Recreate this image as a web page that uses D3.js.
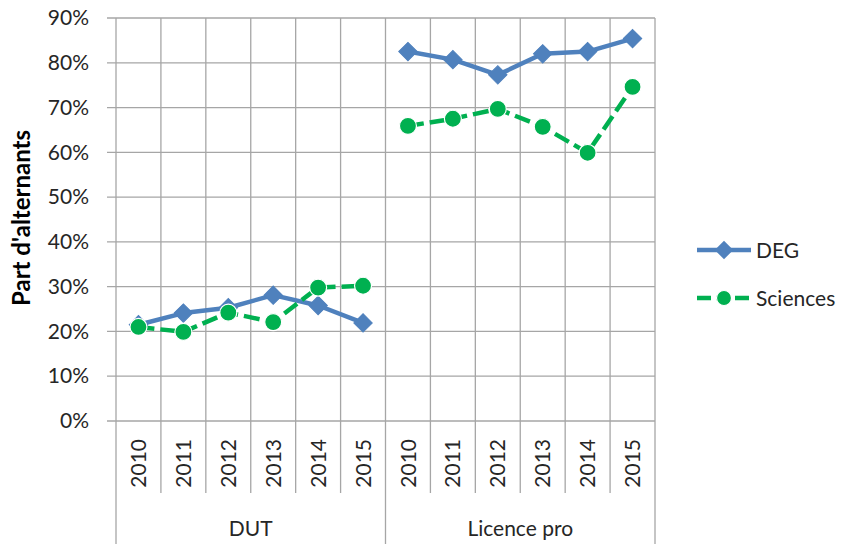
<!DOCTYPE html>
<html>
<head>
<meta charset="utf-8">
<script src="https://cdn.jsdelivr.net/npm/d3@7"></script>
<style>
  body { margin: 0; background: #fff; }
  text { font-family: Lato, "Open Sans", sans-serif; fill: #262626; }
</style>
</head>
<body>
<svg id="chart" width="850" height="544"></svg>
<script>
// data
var groups = ["DUT", "Licence pro"];
var years = ["2010", "2011", "2012", "2013", "2014", "2015"];
var deg = [
  [21.5, 24.1, 25.3, 28.1, 25.8, 21.9],
  [82.5, 80.7, 77.3, 82.0, 82.5, 85.4]
];
var sciences = [
  [21.0, 19.9, 24.2, 22.1, 29.8, 30.2],
  [65.9, 67.5, 69.7, 65.7, 59.9, 74.6]
];
var yTicks = [0, 10, 20, 30, 40, 50, 60, 70, 80, 90];

var plotL = 116, plotR = 655, plotT = 18, plotB = 421;

var svg = d3.select("#chart");

var cats = [];
groups.forEach(function(g) {
  years.forEach(function(yr) { cats.push(g + "|" + yr); });
});

var x = d3.scaleBand().domain(cats).range([plotL, plotR]).padding(0);
var y = d3.scaleLinear().domain([0, 90]).range([plotB, plotT]);

var gridColor = "#a6a6a6";

// horizontal gridlines
svg.append("g").selectAll("line")
  .data(yTicks)
  .enter().append("line")
  .attr("x1", plotL - 9).attr("x2", plotR)
  .attr("y1", function(d) { return y(d); })
  .attr("y2", function(d) { return y(d); })
  .attr("stroke", gridColor).attr("stroke-width", 1.3);

// vertical gridlines at band boundaries
var bounds = cats.map(function(c) { return x(c); }).concat([plotR]);
svg.append("g").selectAll("line")
  .data(bounds)
  .enter().append("line")
  .attr("x1", function(d) { return d; })
  .attr("x2", function(d) { return d; })
  .attr("y1", plotT)
  .attr("y2", function(d, i) { return (i % 6 === 0) ? 544 : 493; })
  .attr("stroke", gridColor).attr("stroke-width", 1.3);

// y axis labels
var yAxis = svg.append("g")
  .attr("transform", "translate(" + plotL + ",0)")
  .call(d3.axisLeft(y).tickValues(yTicks).tickSize(0).tickPadding(27)
    .tickFormat(function(d) { return d + "%"; }));
yAxis.select(".domain").remove();
yAxis.selectAll("text").style("font-size", "21px").style("font-family", "Lato, sans-serif").attr("fill", "#262626");

// year labels
svg.append("g").selectAll("text")
  .data(cats)
  .enter().append("text")
  .attr("transform", function(d) {
    return "translate(" + (x(d) + x.bandwidth() / 2) + ",439) rotate(-90)";
  })
  .attr("dy", "0.36em")
  .style("text-anchor", "end")
  .style("font-size", "21px")
  .text(function(d) { return d.split("|")[1]; });

// group labels
svg.append("g").selectAll("text")
  .data(groups)
  .enter().append("text")
  .attr("x", function(g) { return (x(g + "|2010") + x(g + "|2015") + x.bandwidth()) / 2; })
  .attr("y", 536)
  .style("text-anchor", "middle")
  .style("font-size", "21px")
  .text(function(d) { return d; });

// y title
svg.append("text")
  .attr("transform", "translate(30,218) rotate(-90)")
  .style("text-anchor", "middle")
  .style("font-size", "24px")
  .style("font-weight", "bold")
  .style("fill", "#000")
  .text("Part d'alternants");

var blue = "#4f81bd", green = "#00b050";

var line = d3.line()
  .x(function(d) { return x(d.cat) + x.bandwidth() / 2; })
  .y(function(d) { return y(d.v); });

function pts(arr, gi) {
  return arr[gi].map(function(v, i) { return { cat: groups[gi] + "|" + years[i], v: v }; });
}

var diamond = d3.symbol().type(d3.symbolSquare).size(170);

function drawSeries(arr, color, dash, marker) {
  groups.forEach(function(g, gi) {
    var p = pts(arr, gi);
    svg.append("path")
      .datum(p)
      .attr("d", line)
      .attr("fill", "none")
      .attr("stroke", color)
      .attr("stroke-width", 4.5)
      .attr("stroke-dasharray", dash)
      .attr("stroke-linejoin", "round");
    var m = svg.append("g").selectAll("g").data(p).enter();
    if (marker === "diamond") {
      m.append("path")
        .attr("d", diamond)
        .attr("transform", function(d) {
          return "translate(" + (x(d.cat) + x.bandwidth() / 2) + "," + y(d.v) + ") rotate(45)";
        })
        .attr("fill", color).attr("stroke", color).attr("stroke-width", 1);
    } else {
      m.append("circle")
        .attr("cx", function(d) { return x(d.cat) + x.bandwidth() / 2; })
        .attr("cy", function(d) { return y(d.v); })
        .attr("r", 8.5)
        .attr("fill", color).attr("stroke", "#fff").attr("stroke-width", 1.2);
    }
  });
}

drawSeries(deg, blue, null, "diamond");
drawSeries(sciences, green, "16,6", "circle");

// legend
var legend = [
  { name: "DEG", color: blue, dash: null, marker: "diamond", y: 250 },
  { name: "Sciences", color: green, dash: "14,5", marker: "circle", y: 298 }
];
legend.forEach(function(l) {
  svg.append("line")
    .attr("x1", 697).attr("x2", 751)
    .attr("y1", l.y).attr("y2", l.y)
    .attr("stroke", l.color).attr("stroke-width", 4.5)
    .attr("stroke-dasharray", l.dash);
  if (l.marker === "diamond") {
    svg.append("path").attr("d", diamond)
      .attr("transform", "translate(724," + l.y + ") rotate(45)")
      .attr("fill", l.color);
  } else {
    svg.append("circle").attr("cx", 724).attr("cy", l.y).attr("r", 7.5)
      .attr("fill", l.color).attr("stroke", "#fff").attr("stroke-width", 1.2);
  }
  svg.append("text")
    .attr("x", 756).attr("y", l.y)
    .attr("dy", "0.36em")
    .style("font-size", "21px")
    .text(l.name);
});
</script>
</body>
</html>
